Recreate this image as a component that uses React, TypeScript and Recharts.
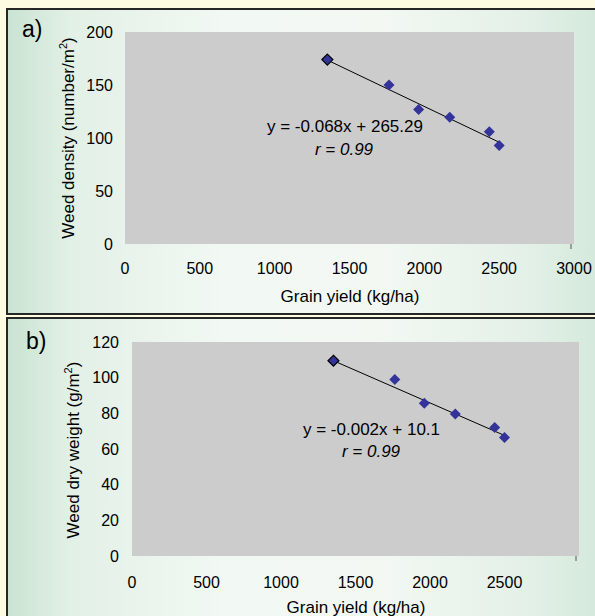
import { CartesianGrid, ReferenceLine, Scatter, ScatterChart, XAxis, YAxis } from "recharts";

const grainYield = [1352, 1764, 1962, 2170, 2434, 2500];
const weedDensity = [174, 150, 127, 119.5, 106, 93];
const weedDryWeight = [109.5, 99, 85.6, 79.6, 72.1, 66.5];
const trendDensity = [
  { x: 1352, y: 173.5 },
  { x: 2500, y: 96 },
];
const trendDryWeight = [
  { x: 1352, y: 109.5 },
  { x: 2500, y: 67.6 },
];
const xTicks = [0, 500, 1000, 1500, 2000, 2500, 3000];
const densityTicks = [0, 50, 100, 150, 200];
const dryWeightTicks = [0, 20, 40, 60, 80, 100, 120];

const densityData = grainYield.map((x, i) => ({ x, y: weedDensity[i] }));
const dryWeightData = grainYield.map((x, i) => ({ x, y: weedDryWeight[i] }));

const font = "'Liberation Sans', Arial, sans-serif";
const panelBg =
  "linear-gradient(90deg, #c9e3d2 0%, #e2f0e6 10%, #f2f8f3 35%, #f3f8f3 60%, #e3f0e7 85%, #cde6d6 100%)";

function Diamond(props: any) {
  const { cx, cy, index } = props;
  const r = 5.5;
  return (
    <polygon
      points={`${cx},${cy - r} ${cx + r},${cy} ${cx},${cy + r} ${cx - r},${cy}`}
      fill="#333399"
      stroke={index === 0 ? "#000" : "none"}
      strokeWidth={1.2}
    />
  );
}

function XTick(props: any) {
  const { x, y, payload, gap, hideLast } = props;
  const last = payload.value === 3000;
  return (
    <g>
      {last && <line x1={x - 3} x2={x - 3} y1={y - gap} y2={y - gap + 5} stroke="#555" />}
      {!(last && hideLast) && (
        <text x={x} y={y} dy="0.71em" textAnchor="middle" fontSize={16} fill="#000" fontFamily={font}>
          {payload.value}
        </text>
      )}
    </g>
  );
}

const yTickStyle = { fontSize: 16, fill: "#000", fontFamily: font };

export default function App() {
  return (
    <div
      style={{
        position: "absolute",
        left: 0,
        top: 0,
        width: 595,
        height: 616,
        overflow: "hidden",
        background: "#fdfbe2",
        fontFamily: font,
      }}
    >
      <div
        style={{
          position: "absolute",
          left: 6,
          top: 8,
          width: 620,
          height: 307,
          boxSizing: "border-box",
          border: "2.5px solid #262626",
          background: panelBg,
        }}
      />
      <div
        style={{
          position: "absolute",
          left: 6,
          top: 316.5,
          width: 620,
          height: 320,
          boxSizing: "border-box",
          border: "2.5px solid #262626",
          background: panelBg,
        }}
      />

      <div style={{ position: "absolute", left: 0, top: 0 }}>
        <ScatterChart width={595} height={320} margin={{ top: 32, right: 21, bottom: 36, left: 65 }}>
          <CartesianGrid fill="#cccccc" horizontal={false} vertical={false} />
          <XAxis
            type="number"
            dataKey="x"
            domain={[0, 3000]}
            ticks={xTicks}
            axisLine={false}
            tickLine={false}
            tickMargin={13}
            height={40}
            tick={<XTick gap={19} hideLast={false} />}
          />
          <YAxis
            type="number"
            dataKey="y"
            domain={[0, 200]}
            ticks={densityTicks}
            axisLine={false}
            tickLine={false}
            tickMargin={6}
            width={60}
            tick={yTickStyle}
          />
          <Scatter data={densityData} shape={<Diamond />} isAnimationActive={false} />
          <ReferenceLine segment={trendDensity} stroke="#000" strokeWidth={1} />
        </ScatterChart>
      </div>

      <div style={{ position: "absolute", left: 0, top: 310 }}>
        <ScatterChart width={595} height={306} margin={{ top: 32, right: 16, bottom: 20, left: 72 }}>
          <CartesianGrid fill="#cccccc" horizontal={false} vertical={false} />
          <XAxis
            type="number"
            dataKey="x"
            domain={[0, 3000]}
            ticks={xTicks}
            axisLine={false}
            tickLine={false}
            tickMargin={15}
            height={40}
            tick={<XTick gap={21} hideLast={true} />}
          />
          <YAxis
            type="number"
            dataKey="y"
            domain={[0, 120]}
            ticks={dryWeightTicks}
            axisLine={false}
            tickLine={false}
            tickMargin={7}
            width={60}
            tick={yTickStyle}
          />
          <Scatter data={dryWeightData} shape={<Diamond />} isAnimationActive={false} />
          <ReferenceLine segment={trendDryWeight} stroke="#000" strokeWidth={1} />
        </ScatterChart>
      </div>

      <svg
        width={595}
        height={616}
        style={{ position: "absolute", left: 0, top: 0, pointerEvents: "none" }}
        fontFamily={font}
        fill="#000"
      >
        <text x={22} y={37} fontSize={23}>a)</text>
        <text x={26} y={349} fontSize={23}>b)</text>

        <text x={267} y={132} fontSize={17}>y = -0.068x + 265.29</text>
        <text x={344} y={155} fontSize={17} textAnchor="middle" fontStyle="italic">r = 0.99</text>
        <text x={303} y={435} fontSize={17}>y = -0.002x + 10.1</text>
        <text x={371} y={457} fontSize={17} textAnchor="middle" fontStyle="italic">r = 0.99</text>

        <text x={350} y={301.5} fontSize={17} textAnchor="middle">Grain yield (kg/ha)</text>
        <text x={356} y={613} fontSize={17} textAnchor="middle">Grain yield (kg/ha)</text>

        <text x={74} y={138} fontSize={17} textAnchor="middle" transform="rotate(-90 74 138)">
          Weed density (number/m<tspan fontSize={11} dy={-7}>2</tspan>
          <tspan dy={7}>)</tspan>
        </text>
        <text x={79} y={450} fontSize={17} textAnchor="middle" transform="rotate(-90 79 450)">
          Weed dry weight (g/m<tspan fontSize={11} dy={-7}>2</tspan>
          <tspan dy={7}>)</tspan>
        </text>
      </svg>
    </div>
  );
}
